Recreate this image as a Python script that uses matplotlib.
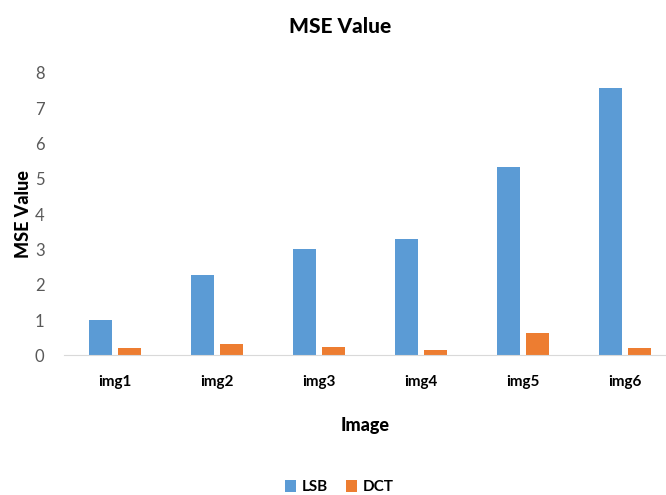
import matplotlib.pyplot as plt
import numpy as np

images = ['img1', 'img2', 'img3', 'img4', 'img5', 'img6']
lsb = [1.01, 2.28, 3.01, 3.30, 5.33, 7.56]
dct = [0.20, 0.33, 0.25, 0.16, 0.63, 0.21]

plt.rcParams['font.family'] = ['Lato', 'DejaVu Sans']

fig = plt.figure(figsize=(6.66, 4.95), dpi=100)
ax = fig.add_axes([0.096, 0.282, 0.904, 0.571])

x = np.arange(len(images))
w = 0.225
ax.bar(x - 0.14, lsb, w, color='#5b9bd5', label='LSB')
ax.bar(x + 0.14, dct, w, color='#ed7d31', label='DCT')

ax.set_xlim(-0.5, 5.4)
ax.set_ylim(0, 8)
ax.set_yticks(range(9))
ax.set_xticks(x)
ax.set_xticklabels(images, fontweight='bold', fontsize=11)
ax.tick_params(axis='y', colors='#595959', labelsize=12, length=0, pad=14)
ax.tick_params(axis='x', length=0, pad=14)
for s in ['top', 'right', 'left']:
    ax.spines[s].set_visible(False)
ax.spines['bottom'].set_color('#d9d9d9')

ax.set_xlabel('Image', fontweight='black', fontsize=13, labelpad=20)
ax.set_ylabel('MSE Value', fontweight='black', fontsize=13, labelpad=2)
fig.text(0.51, 0.947, 'MSE Value', ha='center', va='center', fontweight='black', fontsize=15)

fig.legend(loc='center', bbox_to_anchor=(0.51, 0.016), ncol=2, frameon=False,
           handlelength=0.7, handleheight=0.8, columnspacing=1.2, handletextpad=0.4,
           prop={'weight': 'bold', 'size': 11})

fig.savefig('out.png')
